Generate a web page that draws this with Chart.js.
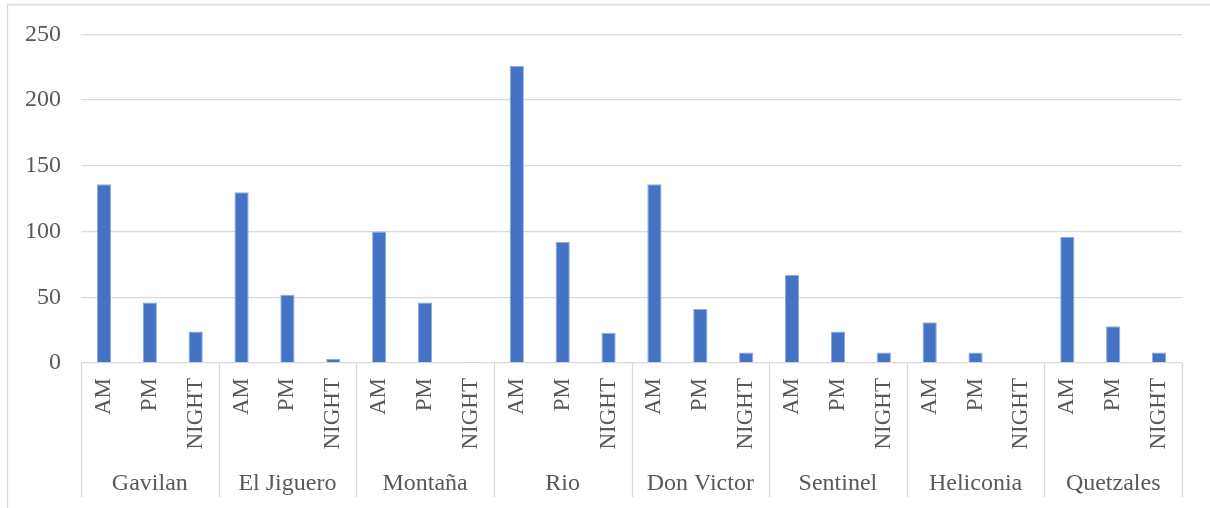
<!DOCTYPE html>
<html>
<head>
<meta charset="utf-8">
<script src="https://cdn.jsdelivr.net/npm/chart.js@4/dist/chart.umd.min.js"></script>
<style>
  html, body { margin: 0; padding: 0; background: #ffffff; }
  #wrap { width: 1210px; height: 508px; position: relative; }
</style>
</head>
<body>
<div id="wrap"><canvas id="c" width="1210" height="508"></canvas></div>
<script>
// Sites and time-of-day periods (two-level category axis)
const sites = ['Gavilan', 'El Jiguero', 'Montaña', 'Rio', 'Don Victor', 'Sentinel', 'Heliconia', 'Quetzales'];
const periods = ['AM', 'PM', 'NIGHT'];

// Counts per site, in period order AM, PM, NIGHT
const gavilan   = [136, 46, 24];
const elJiguero = [130, 52, 3];
const montana   = [100, 46, 1];
const rio       = [226, 92, 23];
const donVictor = [136, 41, 8];
const sentinel  = [67, 24, 8];
const heliconia = [31, 8, 0];
const quetzales = [96, 28, 8];

const yTicks = [0, 50, 100, 150, 200, 250];

const siteValues = [gavilan, elJiguero, montana, rio, donVictor, sentinel, heliconia, quetzales];
const labels = [];
const values = [];
sites.forEach((s, i) => {
  periods.forEach((p, j) => {
    labels.push([p, s]);
    values.push(siteValues[i][j]);
  });
});

const FONT = '"Liberation Serif", "Times New Roman", serif';
const TEXT = '#595959';
const LINE = '#D9D9D9';

// Draws the two-level category axis (period labels + site groups) and the outer frame
const multiLevelAxis = {
  id: 'multiLevelAxis',
  afterDraw(chart) {
    const ctx = chart.ctx;
    const xs = chart.scales.x;
    const area = chart.chartArea;
    const n = periods.length;
    ctx.save();

    // outer frame (left and top edges)
    ctx.strokeStyle = LINE;
    ctx.lineWidth = 1.3;
    ctx.beginPath();
    ctx.moveTo(7.5, 600);
    ctx.lineTo(7.5, 4.5);
    ctx.lineTo(1300, 4.5);
    ctx.stroke();

    const half = (xs.getPixelForValue(1) - xs.getPixelForValue(0)) / 2;
    const bottomY = area.bottom + 134;

    // group dividers
    ctx.strokeStyle = LINE;
    ctx.lineWidth = 1.3;
    for (let g = 0; g <= sites.length; g++) {
      let x;
      if (g < sites.length) x = xs.getPixelForValue(g * n) - half;
      else x = xs.getPixelForValue(g * n - 1) + half;
      x = Math.round(x) + 0.5;
      ctx.beginPath();
      ctx.moveTo(x, area.bottom);
      ctx.lineTo(x, bottomY);
      ctx.stroke();
    }

    // period labels, rotated
    ctx.fillStyle = TEXT;
    ctx.font = '23px ' + FONT;
    ctx.textAlign = 'right';
    ctx.textBaseline = 'middle';
    labels.forEach((lab, i) => {
      const x = xs.getPixelForValue(i);
      ctx.save();
      ctx.translate(x, area.bottom + 15);
      ctx.rotate(-Math.PI / 2);
      ctx.fillText(lab[0], 0, 0);
      ctx.restore();
    });

    // site labels
    ctx.font = '24px ' + FONT;
    ctx.textAlign = 'center';
    ctx.textBaseline = 'alphabetic';
    sites.forEach((s, g) => {
      const x0 = xs.getPixelForValue(g * n) - half;
      const x1 = xs.getPixelForValue(g * n + n - 1) + half;
      ctx.fillText(s, (x0 + x1) / 2, area.bottom + 127);
    });

    ctx.restore();
  }
};

new Chart(document.getElementById('c'), {
  type: 'bar',
  data: {
    labels: labels,
    datasets: [{
      data: values,
      backgroundColor: '#4472C4',
      borderColor: '#8FAADC',
      borderWidth: 1,
      categoryPercentage: 1,
      barPercentage: 0.31
    }]
  },
  options: {
    responsive: false,
    animation: false,
    layout: { padding: { left: 0, right: 28, top: 33, bottom: 145 } },
    plugins: { legend: { display: false }, tooltip: { enabled: false } },
    scales: {
      x: { display: false },
      y: {
        min: 0,
        max: 250,
        afterFit(scale) { scale.width = 81; },
        afterBuildTicks(scale) { scale.ticks = yTicks.map(v => ({ value: v })); },
        border: { display: false },
        grid: { color: LINE, lineWidth: 1.3, drawTicks: false },
        ticks: {
          padding: 20,
          color: TEXT,
          font: { family: FONT, size: 24 }
        }
      }
    }
  },
  plugins: [multiLevelAxis]
});
</script>
</body>
</html>
